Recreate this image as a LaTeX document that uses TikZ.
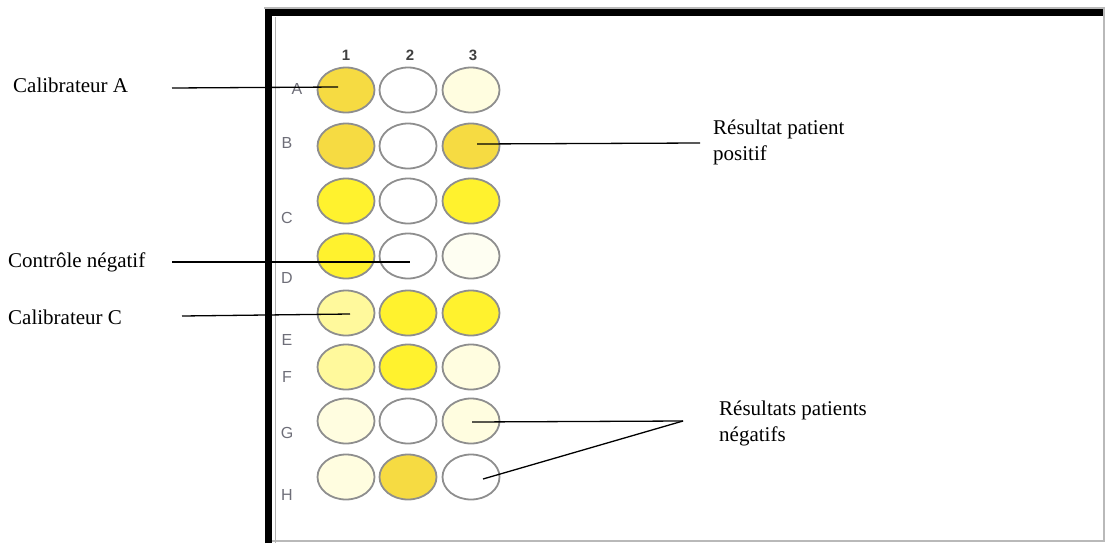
\documentclass[tikz,border=0pt]{standalone}
\usepackage{fontspec}
\setmainfont{Liberation Serif}
\newfontfamily\platefont{Liberation Sans}
\usetikzlibrary{shapes.geometric}

% well fill colours
\definecolor{gold}{HTML}{F6DB42}
\definecolor{bright}{HTML}{FFF22E}
\definecolor{light}{HTML}{FFF99C}
\definecolor{cream}{HTML}{FFFDE0}
\definecolor{pale}{HTML}{FEFEF2}
\definecolor{rim}{HTML}{8E8E8E}
\definecolor{labgray}{HTML}{6E6E78}

\begin{document}
\begin{tikzpicture}[x=1pt,y=-1pt,
  well/.style={ellipse,draw=rim,line width=1.8pt,fill=#1,
    minimum width=57pt,minimum height=45pt,inner sep=0pt},
  rowlab/.style={font=\platefont\fontsize{16}{18}\selectfont,text=labgray,inner sep=0pt},
  collab/.style={font=\platefont\bfseries\fontsize{15}{17}\selectfont,text=black!75,inner sep=0pt},
  callout/.style={font=\fontsize{21}{26}\selectfont,align=left,inner sep=0pt},
  lead/.style={draw=black,line width=1.3pt}]

\useasboundingbox (0,0) rectangle (1107,543);

% plate frame
\draw[gray!55,line width=1.6pt] (264,8) -- (1104,8) -- (1104,541) -- (272,541);
\draw[black,line width=7pt] (268.5,543) -- (268.5,13) -- (1103,13);
\draw[gray!60,line width=1pt] (275,17) -- (275,543);

% wells: rows A--H, columns 1--3
\foreach \r/\y/\ca/\cb/\cc in {
    A/90/gold/white/cream,
    B/146/gold/white/gold,
    C/201/bright/white/bright,
    D/256/bright/white/pale,
    E/313/light/bright/bright,
    F/367/light/bright/cream,
    G/421/cream/white/cream,
    H/477/cream/gold/white}{
  \node[well=\ca] (w-\r-1) at (346,\y) {};
  \node[well=\cb] (w-\r-2) at (408,\y) {};
  \node[well=\cc] (w-\r-3) at (471,\y) {};
}

% column numbers
\node[collab] (c1) at (346,55) {1};
\node[collab] (c2) at (410,55) {2};
\node[collab] (c3) at (473,55) {3};

% row letters
\node[rowlab] (rA) at (297,89) {A};
\node[rowlab] (rB) at (287,143) {B};
\node[rowlab] (rC) at (287,218) {C};
\node[rowlab] (rD) at (287,278) {D};
\node[rowlab] (rE) at (287,340) {E};
\node[rowlab] (rF) at (287,377) {F};
\node[rowlab] (rG) at (287,433) {G};
\node[rowlab] (rH) at (287,495) {H};

% callout texts
\node[callout,anchor=west] (tA) at (13,85) {Calibrateur A};
\node[callout,anchor=west] (tN) at (8,262) {Contrôle négatif};
\node[callout,anchor=west] (tC) at (8,317) {Calibrateur C};
\node[callout,anchor=north west] (tP) at (713,120) {Résultat patient\\positif};
\node[callout,anchor=north west] (tR) at (719,401) {Résultats patients\\négatifs};

% leader line ends
\coordinate (eA) at (172,88);
\coordinate (eN) at (172,262);
\coordinate (eC) at (182,316);
\coordinate (eP) at (700,143);
\coordinate (eR) at (683,421);

% leader lines
\draw[lead] (eA) -- ([shift={(-8,-3)}]w-A-1.center);
\draw[lead] (eN) -- ([shift={(2,6)}]w-D-2.center);
\draw[lead] (eC) -- ([shift={(4,1)}]w-E-1.center);
\draw[lead] (eP) -- ([shift={(6,-2)}]w-B-3.center);
\draw[lead] (eR) -- ([shift={(1,1)}]w-G-3.center);
\draw[lead] (eR) -- ([shift={(12,2)}]w-H-3.center);
\end{tikzpicture}
\end{document}
